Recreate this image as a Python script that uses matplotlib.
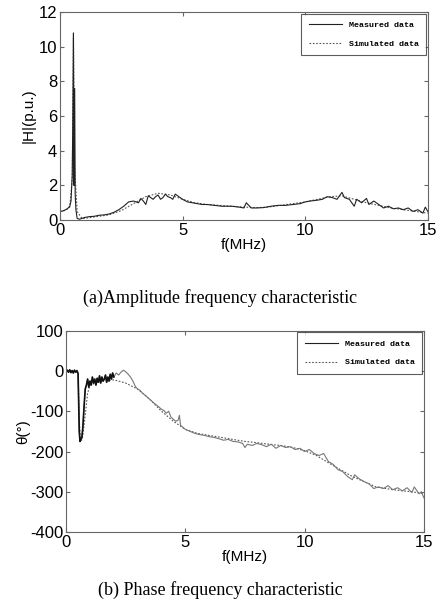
import numpy as np
import matplotlib.pyplot as plt

# amplitude, measured
f_amp_meas = [0, 0.1, 0.2, 0.3, 0.4, 0.45, 0.5, 0.52, 0.55, 0.57, 0.6, 0.62, 0.65, 0.7, 0.8,
              1.0, 1.2, 1.4, 1.6, 1.8, 2.0, 2.2, 2.4, 2.6, 2.8, 3.0, 3.2, 3.3, 3.4, 3.5, 3.6,
              3.7, 3.8, 3.9, 4.0, 4.1, 4.2, 4.3, 4.4, 4.5, 4.6, 4.7, 4.8, 5.0, 5.2, 5.4, 5.6,
              5.8, 6.0, 6.3, 6.6, 7.0, 7.3, 7.5, 7.6, 7.8, 8.0, 8.3, 8.6, 8.9, 9.2, 9.5, 9.8,
              10.0, 10.2, 10.5, 10.7, 10.9, 11.1, 11.3, 11.5, 11.6, 11.8, 12.0, 12.1, 12.3,
              12.5, 12.6, 12.8, 13.0, 13.2, 13.4, 13.6, 13.8, 14.0, 14.2, 14.4, 14.6, 14.8,
              14.9, 15.0]
h_amp_meas = [0.5, 0.52, 0.58, 0.65, 0.8, 1.1, 2.6, 5.2, 10.8, 2.0, 7.6, 1.5, 0.6, 0.1, 0.05,
              0.15, 0.2, 0.22, 0.28, 0.3, 0.35, 0.45, 0.6, 0.8, 1.05, 1.1, 1.0, 1.25, 1.1, 0.9,
              1.4, 1.3, 1.2, 1.35, 1.45, 1.2, 1.3, 1.5, 1.35, 1.3, 1.2, 1.5, 1.4, 1.2, 1.05,
              1.0, 0.95, 0.9, 0.9, 0.85, 0.8, 0.8, 0.75, 0.7, 1.0, 0.7, 0.7, 0.72, 0.8, 0.85,
              0.85, 0.9, 0.95, 1.05, 1.1, 1.15, 1.2, 1.35, 1.3, 1.2, 1.6, 1.3, 1.2, 0.8, 1.2,
              1.0, 1.25, 0.9, 1.1, 0.9, 0.7, 0.8, 0.65, 0.7, 0.6, 0.7, 0.5, 0.6, 0.4, 0.75, 0.5]

# amplitude, simulated
f_amp_sim = [0, 0.2, 0.4, 0.5, 0.55, 0.6, 0.7, 0.9, 1.5, 2.0, 2.5, 3.0, 3.5, 4.0, 4.5, 5.0,
             5.5, 6.0, 6.5, 7.0, 7.5, 8.0, 8.5, 9.0, 9.5, 10.0, 10.5, 11.0, 11.5, 12.0, 12.5,
             13.0, 13.5, 14.0, 14.5, 15.0]
h_amp_sim = [0.5, 0.55, 0.75, 2.4, 10.5, 3.0, 0.5, 0.08, 0.2, 0.3, 0.55, 0.95, 1.35, 1.55,
             1.45, 1.2, 1.0, 0.9, 0.85, 0.8, 0.75, 0.72, 0.75, 0.85, 0.95, 1.05, 1.2, 1.35,
             1.4, 1.2, 1.0, 0.85, 0.7, 0.6, 0.5, 0.4]

# phase, measured
f_ph_meas = [0, 0.05, 0.1, 0.15, 0.2, 0.25, 0.3, 0.35, 0.4, 0.45, 0.5, 0.55, 0.58, 0.62,
             0.66, 0.7, 0.75, 0.8, 0.85, 0.9, 0.95, 1.0, 1.05, 1.1, 1.15, 1.2, 1.25, 1.3,
             1.35, 1.4, 1.45, 1.5, 1.55, 1.6, 1.65, 1.7, 1.75, 1.8, 1.85, 1.9, 1.95, 2.0,
             2.1, 2.2, 2.3, 2.4, 2.5, 2.6, 2.7, 2.8, 2.9, 3.0, 3.1, 3.2, 3.35, 3.5, 3.65,
             3.8, 3.9, 4.0, 4.1, 4.2, 4.3, 4.4, 4.5, 4.6, 4.7, 4.75, 4.8, 4.9, 5.0, 5.2,
             5.4, 5.6, 5.8, 6.0, 6.2, 6.4, 6.6, 6.8, 7.0, 7.2, 7.4, 7.5, 7.6, 7.8, 8.0,
             8.2, 8.4, 8.6, 8.8, 9.0, 9.2, 9.4, 9.6, 9.8, 10.0, 10.2, 10.4, 10.6, 10.8,
             11.0, 11.2, 11.4, 11.6, 11.8, 12.0, 12.1, 12.3, 12.5, 12.7, 12.9, 13.1, 13.3,
             13.5, 13.7, 13.9, 14.1, 14.3, 14.5, 14.6, 14.8, 14.9, 15.0]
p_ph_meas = [0, 2, -3, 3, -4, 1, -5, 2, -3, 1, -6, -150, -175, -170, -165, -140, -90, -45,
             -35, -20, -40, -25, -35, -15, -30, -20, -35, -18, -28, -12, -30, -15, -25, -20,
             -10, -28, -15, -25, -8, -20, -5, -15,
             -5, -10, -3, 2, -2, -8, -15, -25, -38, -45, -48, -55, -62, -70, -78,
             -85, -90, -95, -98, -105, -100, -115, -120, -125, -122, -110, -135, -140, -145, -150,
             -155, -158, -160, -163, -165, -168, -172, -170, -175, -176, -180, -190, -182, -185, -180,
             -183, -188, -182, -192, -185, -190, -188, -195, -192, -200, -195, -205, -210, -205,
             -225, -232, -245, -250, -262, -270, -258, -268, -275, -280, -292, -288, -292,
             -285, -295, -290, -298, -290, -302, -288, -305, -300, -315]

# phase, simulated
f_ph_sim = [0, 0.3, 0.5, 0.55, 0.6, 0.65, 0.7, 0.8, 0.9, 1.0, 1.5, 2.0, 2.5, 3.0, 3.5, 4.0,
            4.5, 5.0, 5.5, 6.0, 6.5, 7.0, 7.5, 8.0, 8.5, 9.0, 9.5, 10.0, 10.5, 11.0, 11.5,
            12.0, 12.5, 13.0, 13.5, 14.0, 14.5, 15.0]
p_ph_sim = [0, 0, -2, -120, -170, -172, -160, -110, -55, -35, -25, -22, -30, -45, -70, -100,
            -125, -145, -155, -160, -165, -170, -175, -178, -182, -185, -190, -198, -210,
            -228, -245, -262, -275, -288, -293, -297, -300, -305]

plt.rcParams['font.family'] = ['Liberation Sans', 'DejaVu Sans']
plt.rcParams['axes.unicode_minus'] = False

fig = plt.figure(figsize=(4.41, 6.08), dpi=100)
ax1 = fig.add_axes([0.136, 0.638, 0.834, 0.342])
ax2 = fig.add_axes([0.150, 0.125, 0.811, 0.331])

leg_font = {'family': 'Liberation Mono', 'weight': 'bold', 'size': 6}

ax1.plot(f_amp_sim, h_amp_sim, color='#555555', lw=0.8, ls=(0, (1.5, 1.5)), label='Simulated data')
ax1.plot(f_amp_meas, h_amp_meas, color='#222222', lw=0.8, label='Measured data')
ax1.set_xlim(0, 15)
ax1.set_ylim(0, 12)
ax1.set_xticks([0, 5, 10, 15])
ax1.set_yticks([0, 2, 4, 6, 8, 10, 12])
ax1.set_xlabel('f(MHz)', fontsize=11, labelpad=0)
ax1.set_ylabel('|H|(p.u.)', fontsize=11, labelpad=2)

n_dense = f_ph_meas.index(2.0) + 1
ax2.plot(f_ph_sim, p_ph_sim, color='#555555', lw=0.8, ls=(0, (1.5, 1.5)), label='Simulated data')
ax2.plot(f_ph_meas, p_ph_meas, color='#777777', lw=0.8, label='Measured data')
ax2.plot(f_ph_meas[:n_dense], p_ph_meas[:n_dense], color='#111111', lw=1.2)
ax2.set_xlim(0, 15)
ax2.set_ylim(-400, 100)
ax2.set_xticks([0, 5, 10, 15])
ax2.set_yticks([-400, -300, -200, -100, 0, 100])
ax2.set_xlabel('f(MHz)', fontsize=11, labelpad=0)
ax2.set_ylabel('θ(°)', fontsize=11, labelpad=0)

for ax in (ax1, ax2):
    ax.tick_params(direction='in', top=True, right=True, labelsize=12, length=3,
                   color='#666666', pad=2)
    for s in ax.spines.values():
        s.set_color('#666666')
        s.set_linewidth(0.8)
    h, l = ax.get_legend_handles_labels()
    leg = ax.legend(h[::-1], l[::-1], loc='upper right', prop=leg_font, fancybox=False,
                    edgecolor='#333333', handlelength=4, borderpad=0.9, labelspacing=1.3,
                    borderaxespad=0.2)
    leg.legend_handles[0].set_color('#222222')
    leg.get_frame().set_linewidth(0.8)

fig.text(0.5, 0.51, '(a)Amplitude frequency characteristic', ha='center', va='center',
         family='Liberation Serif', fontsize=13)
fig.text(0.5, 0.03, '(b) Phase frequency characteristic', ha='center', va='center',
         family='Liberation Serif', fontsize=13)

fig.savefig('out.png', dpi=100)
